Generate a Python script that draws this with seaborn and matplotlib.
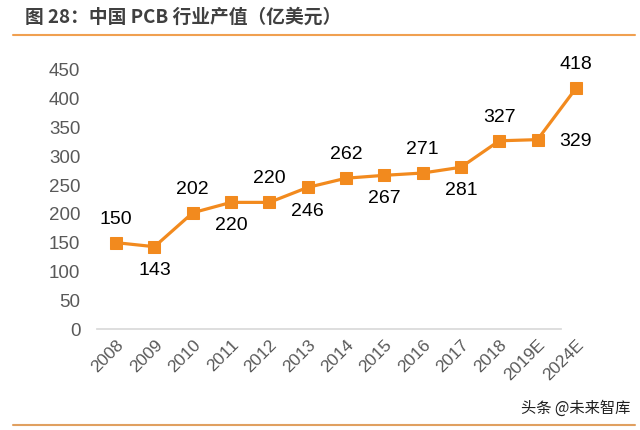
import numpy as np
import pandas as pd
import matplotlib
matplotlib.use('Agg')
import matplotlib.pyplot as plt
import seaborn as sns

years = ['2008', '2009', '2010', '2011', '2012', '2013', '2014',
         '2015', '2016', '2017', '2018', '2019E', '2024E']
values = [150, 143, 202, 220, 220, 246, 262, 267, 271, 281, 327, 329, 418]
# where each value label sits relative to its point
label_pos = ['up', 'down', 'up', 'down', 'up', 'down', 'up',
             'down', 'up', 'down', 'up', 'right', 'up']

ORANGE = '#F28A1E'
GREY = '#595959'

sns.set_theme(style='white')
plt.rcParams['font.family'] = ['Liberation Sans', 'Noto Sans CJK SC', 'DejaVu Sans']

df = pd.DataFrame({'year': years, 'value': values})

fig = plt.figure(figsize=(6.4, 4.3), dpi=100)
ax = fig.add_axes([97 / 640, 1 - 329 / 430, 498 / 640, 259 / 430])

sns.lineplot(data=df, x='year', y='value', ax=ax, color=ORANGE,
             linewidth=2.3, marker='s', markersize=9,
             markeredgecolor=ORANGE, sort=False)

for i, (v, pos) in enumerate(zip(values, label_pos)):
    if pos == 'up':
        off = (0, 17)
    elif pos == 'down':
        off = (0, -17)
    else:
        off = (27, -1)
    ax.annotate(str(v), (i, v), xytext=off, textcoords='offset points',
                ha='center', va='center', fontsize=14, color='black')

ax.set_xlim(-0.5, len(years) - 0.5)
ax.set_ylim(0, 450)
ax.set_yticks(np.arange(0, 451, 50))
ax.set_xlabel('')
ax.set_ylabel('')
ax.tick_params(axis='y', labelsize=13.5, labelcolor=GREY, length=0, pad=12)
ax.tick_params(axis='x', labelsize=12.5, labelcolor=GREY, length=0, pad=6)
for lab in ax.get_xticklabels():
    lab.set_rotation(45)
    lab.set_ha('right')
    lab.set_rotation_mode('anchor')

for s in ['top', 'right', 'left']:
    ax.spines[s].set_visible(False)
ax.spines['bottom'].set_color('#D9D9D9')
ax.spines['bottom'].set_bounds(-0.5, 11.6)

fig.text(25 / 640, 1 - 17 / 430, '图 28：中国 PCB 行业产值（亿美元）',
         fontsize=13.5, fontweight='bold', color='#404040', va='center',
         family=['Noto Sans CJK SC', 'DejaVu Sans'])
fig.add_artist(plt.Line2D([13 / 640, 635 / 640], [1 - 35 / 430, 1 - 35 / 430],
                          color='#F0A050', linewidth=1.5))
fig.add_artist(plt.Line2D([13 / 640, 635 / 640], [1 - 425 / 430, 1 - 425 / 430],
                          color='#E0A060', linewidth=1.5))
fig.text(630 / 640, 1 - 408 / 430, '头条 @未来智库', fontsize=11, color='#202020',
         ha='right', va='center', family=['Noto Sans CJK SC', 'DejaVu Sans'])

fig.savefig('out.png', dpi=100, facecolor='white')
